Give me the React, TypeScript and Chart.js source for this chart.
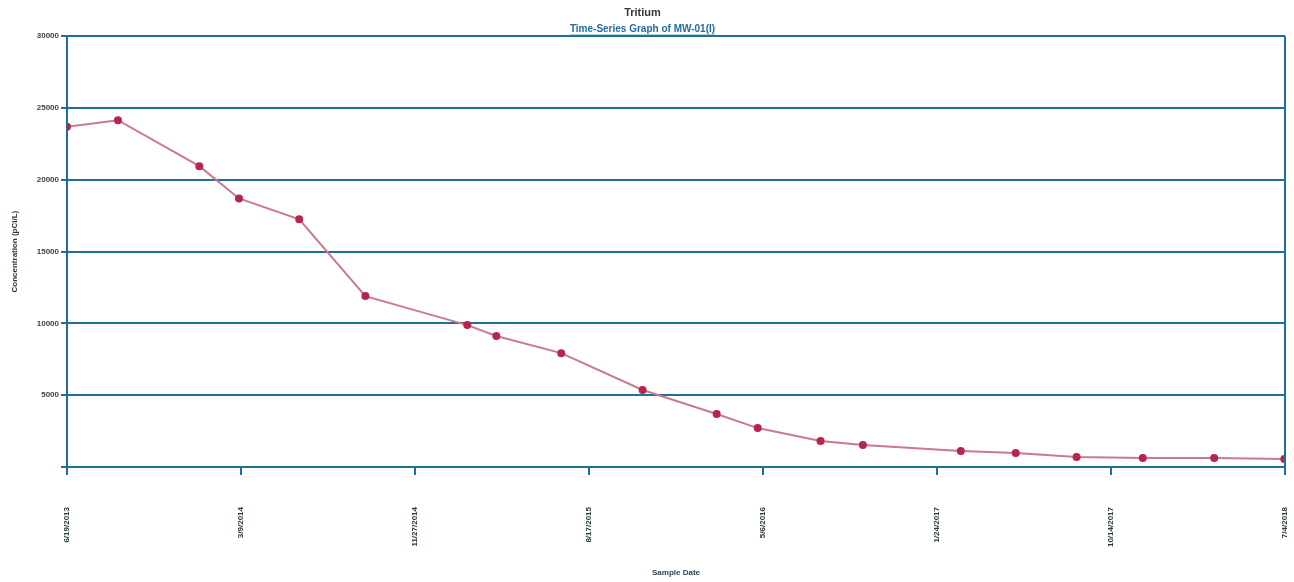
import React, { useEffect, useRef } from "react";
import { Chart, registerables } from "chart.js";

Chart.register(...registerables);

const sampleDates = [
  "6/19/2013", "9/4/2013", "1/5/2014", "3/6/2014", "6/5/2014", "9/13/2014",
  "2/14/2015", "3/30/2015", "7/6/2015", "11/6/2015", "2/26/2016", "4/28/2016",
  "8/1/2016", "10/4/2016", "3/1/2017", "5/23/2017", "8/23/2017", "12/1/2017",
  "3/19/2018", "7/3/2018",
];
const tritiumValues = [
  23700, 24150, 20950, 18700, 17250, 11900, 9880, 9120, 7930, 5360, 3690,
  2710, 1810, 1530, 1110, 970, 700, 630, 630, 560,
];
const xTickLabels = [
  "6/19/2013", "3/9/2014", "11/27/2014", "8/17/2015", "5/6/2016",
  "1/24/2017", "10/14/2017", "7/4/2018",
];
const yTickValues = [0, 5000, 10000, 15000, 20000, 25000, 30000];

const toDay = (s: string) => {
  const [m, d, y] = s.split("/").map(Number);
  return Date.UTC(y, m - 1, d) / 86400000;
};

const BLUE = "#1f6f9b";
const FONT = "Arial, 'Liberation Sans', sans-serif";

export default function App() {
  const ref = useRef<HTMLCanvasElement | null>(null);

  useEffect(() => {
    if (!ref.current) return;
    const tickDays = xTickLabels.map(toDay);
    const points = sampleDates.map((d, i) => ({ x: toDay(d), y: tritiumValues[i] }));

    const framePlugin = {
      id: "frame",
      afterDraw(chart: any) {
        const { ctx, chartArea } = chart;
        ctx.save();
        ctx.strokeStyle = BLUE;
        ctx.lineWidth = 2;
        ctx.beginPath();
        ctx.moveTo(chartArea.right, chartArea.top);
        ctx.lineTo(chartArea.right, chartArea.bottom + 8);
        ctx.stroke();
        const sub = chart.boxes.find(
          (b: any) => b.options && b.options.text && String(b.options.text).startsWith("Time")
        );
        if (sub) {
          const text = String(sub.options.text);
          ctx.font = "bold 10px " + FONT;
          const w = ctx.measureText(text).width;
          const cx = (sub.left + sub.right) / 2;
          const y = sub.top + sub.height - 1;
          ctx.lineWidth = 1;
          ctx.beginPath();
          ctx.moveTo(cx - w / 2, y);
          ctx.lineTo(cx + w / 2, y);
          ctx.stroke();
        }
        ctx.restore();
      },
    };

    const chart = new Chart(ref.current, {
      type: "line",
      data: {
        datasets: [
          {
            label: "Tritium",
            data: points,
            borderColor: "#c97a8c",
            borderWidth: 2,
            pointBackgroundColor: "#b8254c",
            pointBorderColor: "#b8254c",
            pointRadius: 3,
            tension: 0,
          },
        ],
      },
      options: {
        animation: false,
        responsive: false,
        maintainAspectRatio: false,
        layout: { padding: { left: 0, right: 9, top: 0, bottom: 0 } },
        plugins: {
          legend: { display: false },
          tooltip: { enabled: false },
          title: {
            display: true,
            text: "Tritium",
            color: "#3a3a3a",
            font: { family: FONT, size: 11, weight: "bold" },
            padding: { top: 6, bottom: 2 },
          },
          subtitle: {
            display: true,
            text: "Time-Series Graph of MW-01(I)",
            color: BLUE,
            font: { family: FONT, size: 10, weight: "bold" },
            padding: { top: 2, bottom: 1 },
          },
        },
        scales: {
          x: {
            type: "linear",
            min: tickDays[0],
            max: tickDays[tickDays.length - 1],
            afterBuildTicks: (scale: any) => {
              scale.ticks = tickDays.map((v) => ({ value: v }));
            },
            afterFit: (scale: any) => {
              scale.height = 115;
              scale.paddingLeft = 0;
              scale.paddingRight = 0;
            },
            grid: {
              display: true,
              drawOnChartArea: false,
              drawTicks: true,
              tickLength: 8,
              color: BLUE,
              lineWidth: 2,
            },
            border: { display: true, color: BLUE, width: 2 },
            ticks: {
              autoSkip: false,
              minRotation: 90,
              maxRotation: 90,
              padding: 32,
              color: "#2b3a40",
              font: { family: FONT, size: 8, weight: "bold" },
              callback: (_v: any, i: number) => xTickLabels[i],
            },
            title: {
              display: true,
              text: "Sample Date",
              color: "#2b4650",
              font: { family: FONT, size: 8, weight: "bold" },
              padding: { top: 2, bottom: 4 },
            },
          },
          y: {
            min: 0,
            max: 30000,
            afterBuildTicks: (scale: any) => {
              scale.ticks = yTickValues.map((v) => ({ value: v }));
            },
            afterFit: (scale: any) => {
              scale.width = 67;
            },
            grid: {
              color: BLUE,
              lineWidth: 2,
              drawTicks: true,
              tickLength: 6,
            },
            border: { display: true, color: BLUE, width: 2 },
            ticks: {
              padding: 2,
              color: "#3a4448",
              font: { family: FONT, size: 8, weight: "bold" },
              callback: (v: any) => (v === 0 ? "" : String(v)),
            },
            title: {
              display: true,
              text: "Concentration (pCi/L)",
              color: "#2b3a40",
              font: { family: FONT, size: 8, weight: "bold" },
              padding: { top: 10, bottom: 0 },
            },
          },
        },
      },
      plugins: [framePlugin],
    } as any);

    return () => chart.destroy();
  }, []);

  return (
    <div style={{ position: "absolute", left: 0, top: 0, width: 1294, height: 582, background: "#fff" }}>
      <canvas ref={ref} width={1294} height={582} />
    </div>
  );
}
